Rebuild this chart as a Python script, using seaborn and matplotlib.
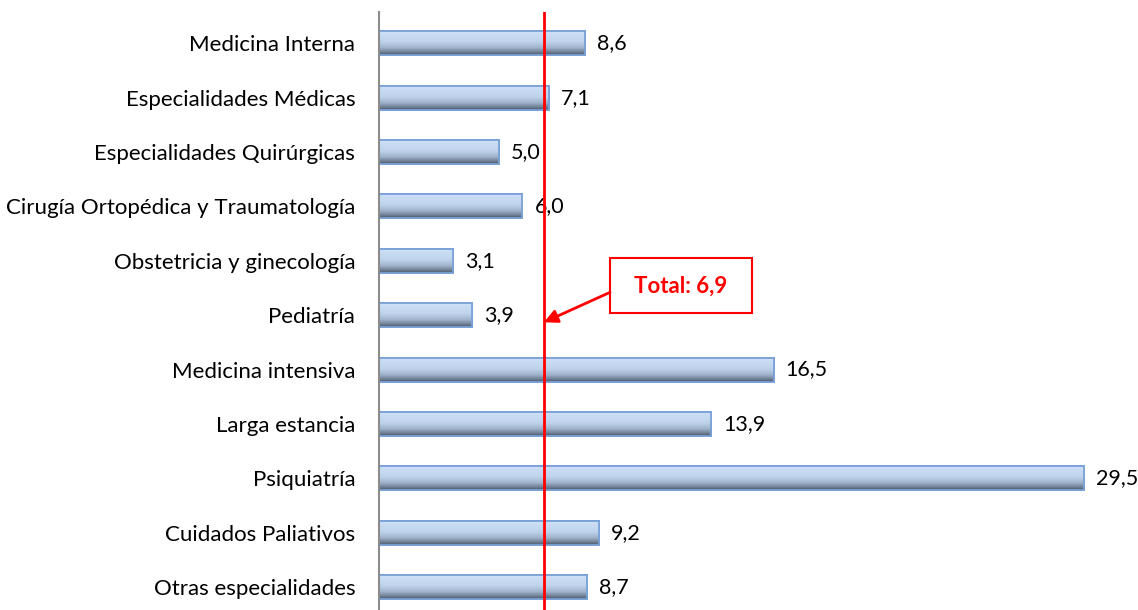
import matplotlib
matplotlib.use("Agg")
import matplotlib.pyplot as plt
import seaborn as sns
import numpy as np
import pandas as pd
from matplotlib.colors import LinearSegmentedColormap

categories = [
    "Medicina Interna",
    "Especialidades Médicas",
    "Especialidades Quirúrgicas",
    "Cirugía Ortopédica y Traumatología",
    "Obstetricia y ginecología",
    "Pediatría",
    "Medicina intensiva",
    "Larga estancia",
    "Psiquiatría",
    "Cuidados Paliativos",
    "Otras especialidades",
]
values = [8.6, 7.1, 5.0, 6.0, 3.1, 3.9, 16.5, 13.9, 29.5, 9.2, 8.7]
total = 6.9

df = pd.DataFrame({"categoria": categories, "valor": values})

sns.set_style("white")
plt.rcParams["font.family"] = ["Lato", "DejaVu Sans"]

fig = plt.figure(figsize=(11.38, 6.10), dpi=100)
ax = fig.add_axes([0.333, 0.0, 0.662, 0.98])

sns.barplot(data=df, x="valor", y="categoria", order=categories,
            color="#c6d9f1", edgecolor="#7aa2d8", linewidth=1.3,
            width=0.44, ax=ax)

# vertical gradient inside each bar (light top, dark bottom)
grad_cmap = LinearSegmentedColormap.from_list(
    "bar", [(0.0, "#cde0f7"), (0.45, "#bfd3ec"), (0.7, "#a0b3cb"),
            (0.88, "#718196"), (1.0, "#4a5566")])
grad = np.linspace(0, 1, 64).reshape(-1, 1)
for p in ax.patches:
    x0, y0 = p.get_x(), p.get_y()
    w, h = p.get_width(), p.get_height()
    im = ax.imshow(grad, cmap=grad_cmap, aspect="auto",
                   extent=[x0, x0 + w, y0 + h, y0], zorder=p.get_zorder() + 0.1,
                   interpolation="bicubic")
    im.set_clip_path(p)
    edge = plt.Rectangle((x0, y0), w, h, fill=False, edgecolor="#7aa2d8",
                         linewidth=1.3, zorder=p.get_zorder() + 0.2)
    ax.add_patch(edge)

for i, v in enumerate(values):
    ax.text(v + 0.5, i, f"{v:.1f}".replace(".", ","), va="center", ha="left",
            fontsize=15.5, color="black", zorder=5)

ax.set_xlim(0, 31.5)
ax.set_ylim(10.42, -0.57)
ax.set_xlabel("")
ax.set_ylabel("")
ax.set_xticks([])
ax.tick_params(axis="y", length=0, labelsize=16, pad=17, labelcolor="black")
for s in ["top", "right", "bottom"]:
    ax.spines[s].set_visible(False)
ax.spines["left"].set_color("#8c8c8c")
ax.spines["left"].set_linewidth(1.5)

ax.axvline(total, color="#ff0000", linewidth=2, zorder=6)

# callout box with the overall value
box_x, box_y, box_w, box_h = 9.66, 3.95, 5.93, 1.01
ax.add_patch(plt.Rectangle((box_x, box_y), box_w, box_h, fc="white",
                           ec="#ff0000", lw=1.5, zorder=7))
ax.text(box_x + box_w / 2, box_y + box_h / 2 + 0.02,
        f"Total: {total:.1f}".replace(".", ","),
        fontsize=16, fontweight="bold", color="#ff0000",
        ha="center", va="center", zorder=8)
ax.annotate("", xy=(total, 5.13), xytext=(box_x, 4.58),
            arrowprops=dict(arrowstyle="-|>", color="#ff0000", lw=2,
                            mutation_scale=20, shrinkA=0, shrinkB=0),
            zorder=8)

fig.savefig("out.png", dpi=100, facecolor="white")
